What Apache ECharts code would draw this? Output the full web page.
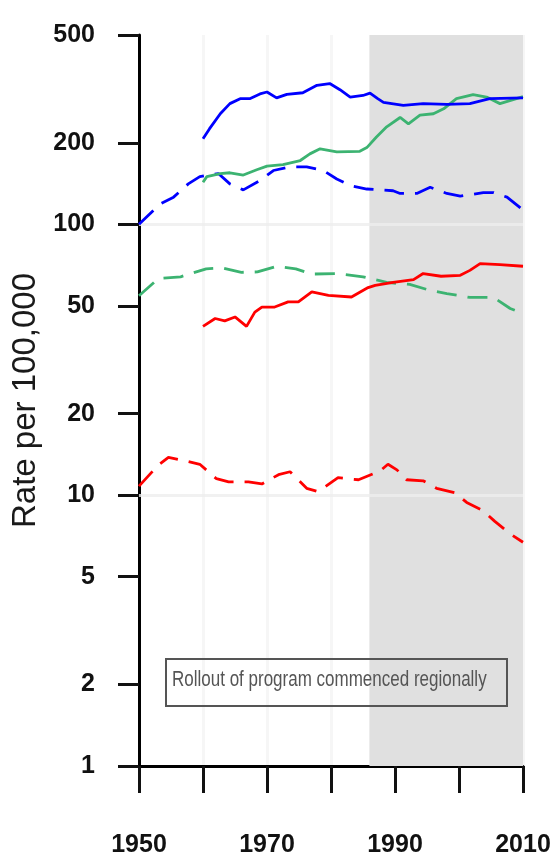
<!DOCTYPE html>
<html>
<head>
<meta charset="utf-8">
<style>
html,body{margin:0;padding:0;background:#fff;}
#chart{width:554px;height:863px;}
</style>
<script src="https://cdn.jsdelivr.net/npm/echarts@6/dist/echarts.min.js"></script>
</head>
<body>
<div id="chart"></div>
<script>
// ---- data ----
const yTickValues = [1, 2, 5, 10, 20, 50, 100, 200, 500];
const yGridValues = [10, 100];
const xLabelYears = [1950, 1970, 1990, 2010];
const shadeStart = 1986;
const shadeEnd = 2010;
const annotation = 'Rollout of program commenced regionally';

const blueSolidYears = [1960,1961,1962.7,1964.2,1965.8,1967.3,1968.9,1970,1971.5,1973.1,1975.6,1977.8,1979.8,1981.4,1983,1985,1986.1,1987.3,1988.2,1991.3,1994.4,1998.1,2001.7,2004.8,2010];
const blueSolidValues = [207,225,256,279,291,291,303,308,293,302,306,326,331,314,295,299,305,291,282,275,279,277,279,291,293];

const blueDashedYears = [1950,1953.3,1955.4,1957.7,1959.5,1962.4,1964.2,1966.3,1968.9,1971,1973.6,1976.2,1978.8,1980.9,1983,1985.6,1989.7,1990.8,1993.4,1995.5,1998.1,2000.2,2003.8,2005.4,2007.5,2010];
const blueDashedValues = [100,119,126,141,150,154,141,134,145,158,163,163,158,147,139,135,133,130,130,137,130,127,131,131,126,113];

const greenSolidYears = [1960,1960.6,1962.7,1964.2,1966.3,1968.4,1970,1972.5,1975.2,1976.7,1978.3,1980.9,1984.5,1985.6,1987.1,1988.7,1990.8,1992.1,1993.9,1996,1997.6,1999.6,2002.2,2004.3,2006.4,2010];
const greenSolidValues = [143,150,154,155,152,159,164,166,172,182,190,185,186,192,210,229,248,235,253,256,267,291,301,295,279,296];

const greenDashedYears = [1950,1953,1956.5,1960.5,1963,1966,1968.5,1971.5,1974.5,1977,1981,1985,1988.7,1992.3,1995.5,1998.1,2001.7,2005.4,2008,2010];
const greenDashedValues = [54.5,63,64,68.5,69,66.5,66.7,70,68.5,65.5,65.8,64,61,60,57,55.5,53.7,53.7,48.9,46.8];

const redSolidYears = [1960,1961.9,1963.4,1965,1966.8,1968.1,1969.2,1971.2,1973.3,1974.9,1977,1979.6,1983.2,1985.8,1986.9,1989.7,1992.9,1994.4,1997.2,2000.2,2001.7,2003.3,2006.4,2010];
const redSolidValues = [42,44.9,44,45.5,42,47.4,49.5,49.5,51.7,51.7,56.3,54.7,53.9,58.4,59.5,61,62.5,65.8,64.3,64.8,67.6,71.6,71,70];

const redDashedYears = [1950,1953,1954.6,1957.7,1959.5,1962.1,1964,1967.1,1969.2,1971.8,1973.6,1976.2,1978,1981.1,1984.3,1987.7,1988.9,1990.3,1991.8,1994.4,1996.5,1999.4,2001.2,2003.8,2005.6,2008,2010];
const redDashedValues = [10.8,12.9,13.8,13.3,13,11.5,11.2,11.2,11,11.9,12.2,10.6,10.3,11.6,11.4,12.3,13,12.4,11.4,11.3,10.6,10.2,9.4,8.75,8,7.2,6.7];

// ---- build ----
const pairs = (xs, ys) => xs.map((x, i) => [x, ys[i]]);
const FONT = "'Liberation Sans', Arial, sans-serif";
const GREEN = '#3cb371';
const DASH = [20, 11];

function lineSeries(name, data, color, dashed, extra) {
  return Object.assign({
    name, type: 'line', data, showSymbol: false, symbol: 'none', smooth: false,
    lineStyle: { color, width: 2.8, type: dashed ? DASH : 'solid', cap: 'butt' },
    emphasis: { disabled: true }, z: 3
  }, extra || {});
}

const chart = echarts.init(document.getElementById('chart'), null, { renderer: 'canvas' });
chart.setOption({
  animation: false,
  backgroundColor: '#ffffff',
  grid: { left: 139, right: 31, top: 35, bottom: 97, containLabel: false, outerBoundsMode: 'none' },
  xAxis: {
    type: 'value', min: 1950, max: 2010, interval: 10,
    axisLine: { show: true, lineStyle: { color: '#000', width: 3 } },
    axisTick: { show: true, length: 27, lineStyle: { color: '#111', width: 3 } },
    axisLabel: {
      margin: 67, fontFamily: FONT, fontWeight: 'bold', fontSize: 25, color: '#111',
      showMinLabel: true, showMaxLabel: true, hideOverlap: false,
      formatter: v => (xLabelYears.indexOf(v) >= 0 ? String(v) : '')
    },
    splitLine: { show: true, lineStyle: { color: '#f6f6f6', width: 3 } }
  },
  yAxis: {
    type: 'log', logBase: 10, min: 1, max: 500,
    name: 'Rate per 100,000', nameLocation: 'middle', nameRotate: 90, nameGap: 88,
    nameTextStyle: { fontFamily: FONT, fontSize: 33, color: '#1a1a1a' },
    axisLine: { show: true, lineStyle: { color: '#000', width: 3 } },
    axisTick: { show: true, length: 21, customValues: yTickValues, lineStyle: { color: '#111', width: 3 } },
    axisLabel: {
      customValues: yTickValues, margin: 44, fontFamily: FONT, fontWeight: 'bold', fontSize: 25, color: '#111',
      formatter: v => String(v)
    },
    splitLine: { show: false }
  },
  series: [
    lineSeries('shade', [], '#000', false, {
      markArea: {
        silent: true, z: 1,
        itemStyle: { color: '#e0e0e0' },
        data: [[{ xAxis: shadeStart, yAxis: 1 }, { xAxis: shadeEnd, yAxis: 500 }]]
      },
      markLine: {
        silent: true, z: 1, symbol: ['none', 'none'], label: { show: false },
        lineStyle: { color: '#eeeeee', width: 3, type: 'solid', opacity: 0.8 },
        data: yGridValues.map(v => ({ yAxis: v }))
      }
    }),
    lineSeries('Red dashed', pairs(redDashedYears, redDashedValues), '#ff0000', true),
    lineSeries('Green dashed', pairs(greenDashedYears, greenDashedValues), GREEN, true),
    lineSeries('Red solid', pairs(redSolidYears, redSolidValues), '#ff0000', false),
    lineSeries('Blue dashed', pairs(blueDashedYears, blueDashedValues), '#0000ff', true),
    lineSeries('Green solid', pairs(greenSolidYears, greenSolidValues), GREEN, false),
    lineSeries('Blue solid', pairs(blueSolidYears, blueSolidValues), '#0000ff', false)
  ],
  graphic: [
    {
      type: 'rect', left: 165, top: 658, z: 10,
      shape: { width: 341, height: 47 },
      style: { fill: 'rgba(0,0,0,0)', stroke: '#555', lineWidth: 2 }
    },
    {
      type: 'text', x: 172, y: 670, z: 11, scaleY: 1.25,
      style: { text: annotation, fill: '#555', fontFamily: FONT, fontSize: 17 }
    }
  ]
});
</script>
</body>
</html>
